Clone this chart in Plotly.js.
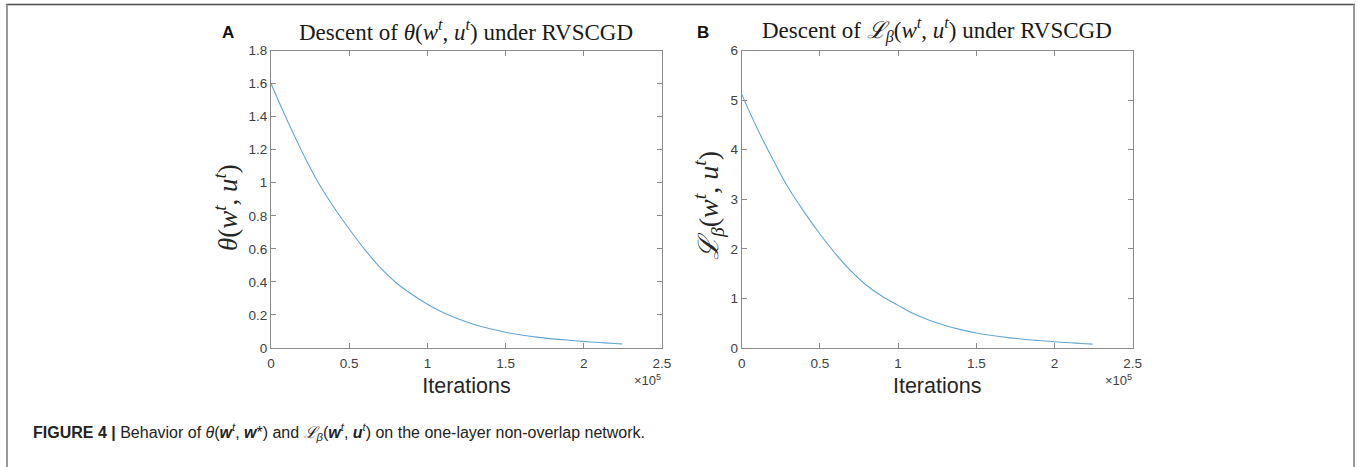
<!DOCTYPE html>
<html>
<head>
<meta charset="utf-8">
<script src="https://cdn.plot.ly/plotly-3.0.1.min.js"></script>
<style>html,body{margin:0;padding:0;background:#fff;}#chart{width:1359px;height:467px;}</style>
</head>
<body>
<div id="chart"></div>
<script>
// Panel A: theta(w^t, u^t) vs iterations
const itersA = [0, 10000, 20000, 30000, 40000, 50000, 60000, 70000, 80000, 90000, 100000, 110000, 120000, 130000, 140000, 150000, 160000, 170000, 180000, 190000, 200000, 210000, 220000, 224500];
const thetaA = [1.6, 1.385, 1.185, 1.005, 0.855, 0.72, 0.595, 0.485, 0.395, 0.325, 0.265, 0.215, 0.175, 0.142, 0.116, 0.095, 0.079, 0.066, 0.055, 0.047, 0.04, 0.033, 0.027, 0.025];
// Panel B: L_beta(w^t, u^t) vs iterations
const itersB = [0, 10000, 20000, 30000, 40000, 50000, 60000, 70000, 80000, 90000, 100000, 110000, 120000, 130000, 140000, 150000, 160000, 170000, 180000, 190000, 200000, 210000, 220000, 224400];
const lossB = [5.12, 4.42, 3.8, 3.22, 2.74, 2.3, 1.9, 1.55, 1.26, 1.04, 0.86, 0.69, 0.56, 0.455, 0.37, 0.303, 0.252, 0.21, 0.176, 0.15, 0.127, 0.105, 0.086, 0.078];

const xTickVals = [0, 50000, 100000, 150000, 200000, 250000];
const xTickText = ['0', '0.5', '1', '1.5', '2', '2.5'];
const yTickValsA = [0, 0.2, 0.4, 0.6, 0.8, 1.0, 1.2, 1.4, 1.6, 1.8];
const yTickTextA = ['0', '0.2', '0.4', '0.6', '0.8', '1', '1.2', '1.4', '1.6', '1.8'];
const yTickValsB = [0, 1, 2, 3, 4, 5, 6];
const yTickTextB = ['0', '1', '2', '3', '4', '5', '6'];

const W = 1359, H = 467;
const px = v => v / W;
const py = v => (H - v) / H;

const lineColor = '#62a6cf';
const axColor = '#8a8a8a';
const sans = 'Liberation Sans, Arial, sans-serif';
const serif = 'Liberation Serif, Times New Roman, serif';
const tickFont = {family: sans, size: 13.5, color: '#404040'};

function xax(domain, anchor) {
  return {
    domain: domain, anchor: anchor, range: [0, 250000], tickvals: xTickVals, ticktext: xTickText,
    ticks: 'inside', ticklen: 5, tickcolor: axColor, showline: true, mirror: 'ticks',
    linecolor: axColor, linewidth: 1, showgrid: false, zeroline: false, tickfont: tickFont,
    ticklabelstandoff: 3,
    title: {text: 'Iterations', font: {family: sans, size: 21.5, color: '#262626'}, standoff: 7},
    fixedrange: true
  };
}
function yax(range, vals, text, anchor) {
  return {
    domain: [py(348), py(50.5)], range: range, tickvals: vals, ticktext: text, anchor: anchor,
    ticks: 'inside', ticklen: 5, tickcolor: axColor, showline: true, mirror: 'ticks',
    linecolor: axColor, linewidth: 1, showgrid: false, zeroline: false, tickfont: tickFont,
    fixedrange: true
  };
}

const data = [
  {x: itersA, y: thetaA, type: 'scatter', mode: 'lines', xaxis: 'x', yaxis: 'y',
   line: {color: lineColor, width: 1.1, shape: 'spline', smoothing: 1}, hoverinfo: 'skip'},
  {x: itersB, y: lossB, type: 'scatter', mode: 'lines', xaxis: 'x2', yaxis: 'y2',
   line: {color: lineColor, width: 1.1, shape: 'spline', smoothing: 1}, hoverinfo: 'skip'}
];

const layout = {
  width: W, height: H, margin: {l: 0, r: 0, t: 0, b: 0},
  paper_bgcolor: '#fff', plot_bgcolor: '#fff', showlegend: false,
  xaxis: xax([px(271), px(662)], 'y'),
  yaxis: yax([0, 1.8], yTickValsA, yTickTextA, 'x'),
  xaxis2: xax([px(741.7), px(1132.7)], 'y2'),
  yaxis2: yax([0, 6], yTickValsB, yTickTextB, 'x2'),
  annotations: [
    {text: 'Descent of <i>θ</i>(<i>w</i><sup><i>t</i></sup>, <i>u</i><sup><i>t</i></sup>) under RVSCGD',
     xref: 'paper', yref: 'paper', x: px(466.5), y: py(30), xanchor: 'center', yanchor: 'middle',
     showarrow: false, font: {family: serif, size: 23, color: '#1a1a1a'}},
    {text: 'Descent of <i>ℒ</i><sub><i>β</i></sub>(<i>w</i><sup><i>t</i></sup>, <i>u</i><sup><i>t</i></sup>) under RVSCGD',
     xref: 'paper', yref: 'paper', x: px(937), y: py(30), xanchor: 'center', yanchor: 'middle',
     showarrow: false, font: {family: serif, size: 23, color: '#1a1a1a'}},
    {text: '<i>θ</i>(<i>w</i><sup><i>t</i></sup>, <i>u</i><sup><i>t</i></sup>)', textangle: -90,
     xref: 'paper', yref: 'paper', x: px(226), y: py(208), xanchor: 'center', yanchor: 'middle',
     showarrow: false, font: {family: serif, size: 27, color: '#262626'}},
    {text: '<i>ℒ</i><sub><i>β</i></sub>(<i>w</i><sup><i>t</i></sup>, <i>u</i><sup><i>t</i></sup>)', textangle: -90,
     xref: 'paper', yref: 'paper', x: px(708), y: py(206), xanchor: 'center', yanchor: 'middle',
     showarrow: false, font: {family: serif, size: 28, color: '#262626'}},
    {text: '<b>A</b>', xref: 'paper', yref: 'paper', x: px(228.5), y: py(33), xanchor: 'center', yanchor: 'middle',
     showarrow: false, font: {family: sans, size: 17, color: '#111'}},
    {text: '<b>B</b>', xref: 'paper', yref: 'paper', x: px(702.5), y: py(33), xanchor: 'center', yanchor: 'middle',
     showarrow: false, font: {family: sans, size: 17, color: '#111'}},
    {text: '×10<sup>5</sup>', xref: 'paper', yref: 'paper', x: px(663), y: py(380), xanchor: 'right', yanchor: 'middle',
     showarrow: false, font: {family: sans, size: 13, color: '#404040'}},
    {text: '×10<sup>5</sup>', xref: 'paper', yref: 'paper', x: px(1134), y: py(380), xanchor: 'right', yanchor: 'middle',
     showarrow: false, font: {family: sans, size: 13, color: '#404040'}},
    {text: '<b>FIGURE 4 |</b> Behavior of <i>θ</i>(<b><i>w</i></b><sup><i>t</i></sup>, <b><i>w</i></b>*) and <i>ℒ</i><sub><i>β</i></sub>(<b><i>w</i></b><sup><i>t</i></sup>, <b><i>u</i></b><sup><i>t</i></sup>) on the one-layer non-overlap network.',
     xref: 'paper', yref: 'paper', x: px(31), y: py(432), xanchor: 'left', yanchor: 'middle',
     showarrow: false, font: {family: sans, size: 16, color: '#222'}}
  ],
  shapes: [
    {type: 'line', xref: 'paper', yref: 'paper', x0: px(6), x1: px(1355), y0: py(4.5), y1: py(4.5),
     line: {color: '#4a4a4a', width: 1.5}},
    {type: 'line', xref: 'paper', yref: 'paper', x0: px(7), x1: px(7), y0: py(4.5), y1: 0,
     line: {color: '#999', width: 2}},
    {type: 'line', xref: 'paper', yref: 'paper', x0: px(1354), x1: px(1354), y0: py(4.5), y1: 0,
     line: {color: '#999', width: 2}}
  ]
};

Plotly.newPlot('chart', data, layout, {displayModeBar: false, staticPlot: true});
</script>
</body>
</html>
